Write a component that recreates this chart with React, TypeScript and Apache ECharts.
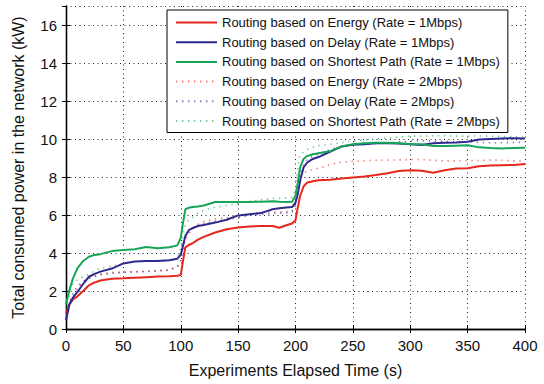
import React, { useEffect, useRef } from "react";
import * as echarts from "echarts";

// Sample times (s)
const times = [0, 3, 6, 10, 15, 20, 25, 30, 40, 50, 60, 70, 80, 90, 97, 100, 102, 104, 107, 110, 115, 120, 130, 140, 150, 160, 170, 180, 186, 192, 197, 200, 202, 204, 207, 210, 215, 220, 230, 240, 250, 260, 270, 280, 290, 300, 310, 320, 330, 340, 350, 360, 370, 380, 390, 400];

// Total consumed power (kW), 1 Mbps
const energy1 = [0.8, 1.3, 1.55, 1.72, 2.0, 2.3, 2.45, 2.55, 2.65, 2.67, 2.7, 2.73, 2.76, 2.78, 2.8, 2.85, 3.6, 4.3, 4.42, 4.5, 4.7, 4.85, 5.08, 5.25, 5.34, 5.4, 5.42, 5.42, 5.33, 5.46, 5.55, 5.72, 6.4, 7.0, 7.5, 7.7, 7.78, 7.83, 7.86, 7.92, 7.98, 8.03, 8.1, 8.2, 8.32, 8.36, 8.33, 8.22, 8.35, 8.45, 8.46, 8.57, 8.6, 8.62, 8.63, 8.68];
const delay1 = [0.45, 1.3, 1.65, 1.95, 2.38, 2.75, 2.9, 3.02, 3.18, 3.45, 3.55, 3.58, 3.58, 3.62, 3.7, 3.9, 4.4, 4.9, 5.2, 5.3, 5.42, 5.47, 5.6, 5.75, 5.98, 6.04, 6.1, 6.3, 6.36, 6.4, 6.42, 6.65, 7.1, 7.8, 8.5, 8.75, 8.95, 9.05, 9.33, 9.6, 9.7, 9.73, 9.77, 9.77, 9.76, 9.73, 9.68, 9.78, 9.8, 9.82, 9.86, 9.97, 10.0, 10.03, 10.04, 10.02];
const shortest1 = [1.3, 2.05, 2.65, 3.2, 3.58, 3.8, 3.9, 3.94, 4.1, 4.16, 4.2, 4.32, 4.25, 4.3, 4.4, 4.8, 5.6, 6.3, 6.38, 6.42, 6.45, 6.5, 6.68, 6.68, 6.69, 6.69, 6.7, 6.72, 6.7, 6.69, 6.7, 7.0, 7.7, 8.5, 8.95, 9.1, 9.2, 9.25, 9.35, 9.6, 9.73, 9.77, 9.8, 9.8, 9.77, 9.74, 9.72, 9.63, 9.63, 9.65, 9.67, 9.56, 9.52, 9.5, 9.53, 9.54];

// Total consumed power (kW), 2 Mbps
const energy2 = [0.9, 1.4, 1.7, 2.1, 2.5, 2.72, 2.8, 2.9, 2.98, 3.0, 3.02, 3.05, 3.08, 3.12, 3.3, 3.6, 4.3, 4.7, 5.0, 5.25, 5.5, 5.65, 5.8, 5.85, 5.9, 6.05, 6.15, 6.16, 6.16, 6.17, 6.2, 6.6, 7.5, 8.0, 8.2, 8.3, 8.4, 8.45, 8.65, 8.78, 8.83, 8.86, 8.88, 8.89, 8.9, 8.92, 8.92, 8.88, 8.85, 8.85, 8.86, 8.87, 8.89, 8.88, 8.85, 8.82];
const delay2 = [0.6, 1.4, 1.9, 2.25, 2.5, 2.65, 2.75, 2.85, 2.93, 2.98, 3.0, 3.02, 3.05, 3.1, 3.25, 3.55, 4.4, 4.9, 5.15, 5.3, 5.45, 5.55, 5.68, 5.75, 5.85, 5.98, 6.03, 6.08, 6.1, 6.12, 6.15, 6.5, 7.5, 8.2, 8.6, 8.9, 9.1, 9.2, 9.45, 9.6, 9.7, 9.72, 9.75, 9.78, 9.85, 9.88, 9.9, 9.9, 9.88, 9.86, 9.85, 9.82, 9.8, 9.8, 9.82, 9.82];
const shortest2 = [1.1, 1.9, 2.4, 2.6, 2.75, 2.9, 3.05, 3.2, 3.3, 3.45, 3.55, 3.58, 3.6, 3.62, 3.7, 4.3, 5.0, 5.5, 5.75, 5.85, 6.1, 6.25, 6.4, 6.5, 6.6, 6.72, 6.8, 6.87, 6.88, 6.9, 6.92, 7.4, 8.5, 9.2, 9.3, 9.45, 9.55, 9.65, 9.72, 9.8, 9.9, 9.95, 10.0, 10.05, 10.1, 10.15, 10.15, 10.17, 10.17, 10.15, 10.15, 10.16, 10.15, 10.13, 10.12, 10.1];

const seriesNames = [
  "Routing based on Energy (Rate = 1Mbps)",
  "Routing based on Delay (Rate = 1Mbps)",
  "Routing based on Shortest Path (Rate = 1Mbps)",
  "Routing based on Energy (Rate = 2Mbps)",
  "Routing based on Delay (Rate = 2Mbps)",
  "Routing based on Shortest Path (Rate = 2Mbps)",
];

const xTicks = [0, 50, 100, 150, 200, 250, 300, 350, 400];
const yTicks = [0, 2, 4, 6, 8, 10, 12, 14, 16];

const RED = "#e5271c";
const BLUE = "#2e2a8e";
const GREEN = "#17a558";

const FONT = "Liberation Sans, Arial, Helvetica, sans-serif";

export default function App() {
  const ref = useRef<HTMLDivElement>(null);

  useEffect(() => {
    if (!ref.current) return;
    const chart = echarts.init(ref.current, undefined, { renderer: "svg" });

    const pairs = (vals: number[]) => times.map((t, i) => [t, vals[i]]);
    const solid = (name: string, vals: number[], color: string) => ({
      name,
      type: "line",
      data: pairs(vals),
      symbol: "none",
      xAxisIndex: 0,
      yAxisIndex: 0,
      lineStyle: { color, width: 2 },
      itemStyle: { color },
      z: 3,
    });
    const dotted = (name: string, vals: number[], color: string) => ({
      name,
      type: "line",
      data: pairs(vals),
      symbol: "none",
      xAxisIndex: 0,
      yAxisIndex: 0,
      lineStyle: { color, width: 1.6, type: [1.4, 4.6], opacity: 0.6 },
      itemStyle: { color },
      z: 2,
    });

    const xMin = xTicks[0];
    const xMax = xTicks[xTicks.length - 1];
    const xInterval = xTicks[1] - xTicks[0];
    const yInterval = yTicks[1] - yTicks[0];

    const axisLine = { show: true, lineStyle: { color: "#000", width: 1.3 } };
    const tick = { show: true, inside: true, length: 4, lineStyle: { color: "#000", width: 1 } };

    chart.setOption({
      animation: false,
      backgroundColor: "#fff",
      grid: { left: 66, right: 19, top: 6, bottom: 55, containLabel: false },
      legend: {
        orient: "vertical",
        left: 167,
        top: 10,
        data: seriesNames,
        backgroundColor: "#fff",
        borderColor: "#000",
        borderWidth: 1,
        padding: [6, 8, 5, 8],
        itemWidth: 41,
        itemHeight: 12,
        itemGap: 6.7,
        itemStyle: { opacity: 0 },
        textStyle: { fontFamily: FONT, fontSize: 13, color: "#111" },
        z: 10,
      },
      xAxis: [
        {
          type: "value",
          min: xMin,
          max: xMax,
          interval: xInterval,
          position: "bottom",
          name: "Experiments Elapsed Time (s)",
          nameLocation: "middle",
          nameGap: 33,
          nameTextStyle: { fontFamily: FONT, fontSize: 16, color: "#111" },
          axisLine,
          axisTick: tick,
          axisLabel: { fontFamily: FONT, fontSize: 15, color: "#111", margin: 9 },
          splitLine: { show: true, lineStyle: { color: "#222", width: 1, type: [1, 3.5] } },
        },
        {
          type: "value",
          min: xMin,
          max: xMax,
          interval: xInterval,
          position: "top",
          axisLine,
          axisTick: tick,
          axisLabel: { show: false },
          splitLine: { show: false },
        },
      ],
      yAxis: [
        {
          type: "value",
          min: 0,
          max: 17,
          interval: yInterval,
          position: "left",
          name: "Total consumed power in the network (kW)",
          nameLocation: "middle",
          nameGap: 40,
          nameTextStyle: { fontFamily: FONT, fontSize: 16, color: "#111" },
          axisLine,
          axisTick: tick,
          axisLabel: { fontFamily: FONT, fontSize: 15, color: "#111", margin: 9, showMaxLabel: false },
          splitLine: { show: true, lineStyle: { color: "#222", width: 1, type: [1, 3.5] } },
        },
        {
          type: "value",
          min: 0,
          max: 17,
          interval: yInterval,
          position: "right",
          axisLine,
          axisTick: tick,
          axisLabel: { show: false },
          splitLine: { show: false },
        },
      ],
      series: [
        solid(seriesNames[0], energy1, RED),
        solid(seriesNames[1], delay1, BLUE),
        solid(seriesNames[2], shortest1, GREEN),
        dotted(seriesNames[3], energy2, RED),
        dotted(seriesNames[4], delay2, BLUE),
        dotted(seriesNames[5], shortest2, GREEN),
      ],
    });

    return () => chart.dispose();
  }, []);

  return <div ref={ref} style={{ width: 544, height: 384, position: "absolute", left: 0, top: 0 }} />;
}
